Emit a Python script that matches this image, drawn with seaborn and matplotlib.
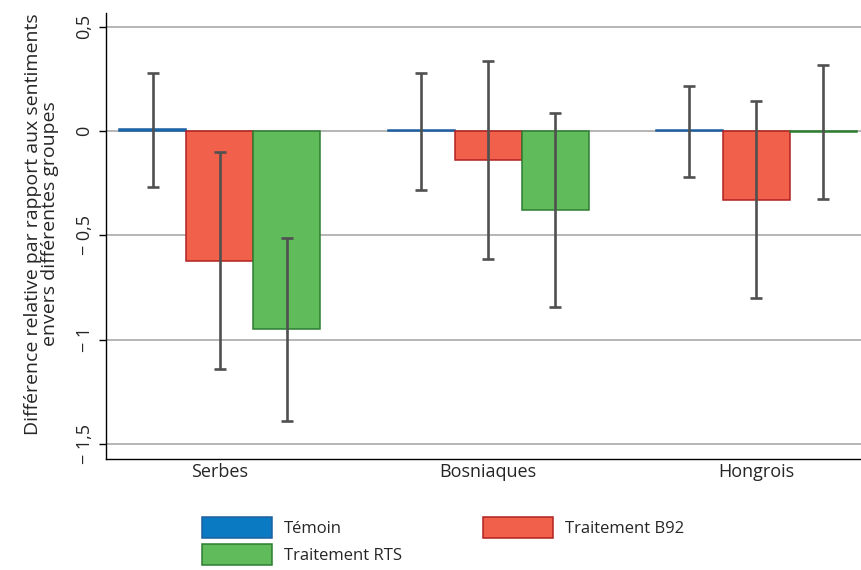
import numpy as np
import pandas as pd
import matplotlib.pyplot as plt
import seaborn as sb
from matplotlib.patches import Patch

# data
groupes = ["Serbes", "Bosniaques", "Hongrois"]
conditions = ["Témoin", "Traitement B92", "Traitement RTS"]
temoin = [0.01, 0.003, 0.003]
b92 = [-0.62, -0.14, -0.33]
rts = [-0.95, -0.38, -0.005]
# confidence intervals (low, high)
temoin_ci = [(-0.27, 0.28), (-0.28, 0.28), (-0.22, 0.215)]
b92_ci = [(-1.14, -0.10), (-0.615, 0.335), (-0.80, 0.143)]
rts_ci = [(-1.39, -0.51), (-0.843, 0.085), (-0.327, 0.315)]

faces = ["#0A7BC2", "#F0604A", "#60BC5A"]
edges = ["#1F5FA0", "#B22222", "#2E7D32"]

df = pd.DataFrame({
    "groupe": groupes * 3,
    "condition": np.repeat(conditions, 3),
    "valeur": temoin + b92 + rts,
})
cis = [temoin_ci, b92_ci, rts_ci]

sb.set_style("white")
plt.rcParams["font.family"] = ["Open Sans", "DejaVu Sans"]

fig = plt.figure(figsize=(8.62, 5.70), dpi=100)
ax = fig.add_axes([0.123, 0.195, 0.877, 0.782])

sb.barplot(data=df, x="groupe", y="valeur", hue="condition", hue_order=conditions,
           palette=faces, errorbar=None, width=0.75, saturation=1, legend=False, ax=ax)

for cont, ec, ci in zip(ax.containers, edges, cis):
    xs, lo, hi = [], [], []
    for bar, (l, h) in zip(cont, ci):
        bar.set_edgecolor(ec)
        bar.set_linewidth(1.1)
        xs.append(bar.get_x() + bar.get_width() / 2)
        lo.append(l)
        hi.append(h)
    mid = [(l + h) / 2 for l, h in zip(lo, hi)]
    half = [(h - l) / 2 for l, h in zip(lo, hi)]
    ax.errorbar(xs, mid, yerr=half, fmt="none", ecolor="#505050",
                elinewidth=1.9, capsize=4.3, capthick=1.9, zorder=5)

ax.set_xlim(-0.425, 2.395)
ax.set_ylim(-1.57, 0.565)
ax.set_yticks([0.5, 0, -0.5, -1, -1.5])
ax.set_yticklabels(["0,5", "0", "\u2212 0,5", "\u2212 1", "\u2212 1,5"],
                   rotation=90, va="center", fontsize=13)
ax.tick_params(axis="y", direction="out", length=5, width=1, color="black", pad=4, left=True)
ax.tick_params(axis="x", length=0, labelsize=13, pad=3)
ax.yaxis.grid(True, color="#B0B0B0", linewidth=1.3)
ax.set_axisbelow(True)
for s in ["top", "right"]:
    ax.spines[s].set_visible(False)
for s in ["left", "bottom"]:
    ax.spines[s].set_color("black")
    ax.spines[s].set_linewidth(1.0)
ax.set_xlabel("")
ax.set_ylabel("Différence relative par rapport aux sentiments\nenvers différentes groupes",
              fontsize=14, linespacing=0.95, labelpad=12)
ax.yaxis.label.set_y(0.527)

handles = [Patch(facecolor=f, edgecolor=e, linewidth=1.1) for f, e in zip(faces, edges)]
order = [0, 2, 1]
fig.legend([handles[i] for i in order], [conditions[i] for i in order],
           loc="upper center", bbox_to_anchor=(0.514, 0.12),
           ncol=2, frameon=False, fontsize=12, handlelength=4.2, handleheight=1.6,
           columnspacing=4.85, handletextpad=0.7, labelspacing=0.35)

fig.savefig("out.png", dpi=100)
